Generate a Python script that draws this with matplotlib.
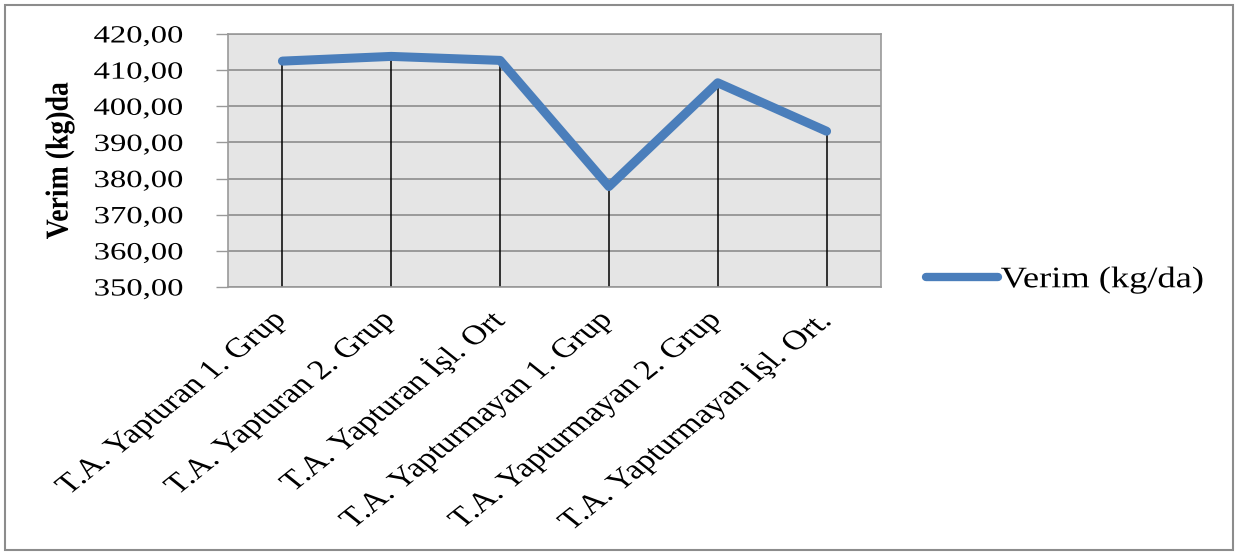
import matplotlib.pyplot as plt
from matplotlib.patches import Rectangle
from matplotlib.patheffects import AbstractPathEffect
from matplotlib.transforms import Affine2D

plt.rcParams['font.family'] = ['Liberation Serif', 'DejaVu Serif']

categories = ['T.A. Yapturan 1. Grup', 'T.A. Yapturan 2. Grup', 'T.A. Yapturan İşl. Ort',
              'T.A. Yapturmayan 1. Grup', 'T.A. Yapturmayan 2. Grup', 'T.A. Yapturmayan İşl. Ort.']
verim = [412.5, 413.8, 412.7, 377.8, 406.5, 393.1]
yticks = [350, 360, 370, 380, 390, 400, 410, 420]


class HStretch(AbstractPathEffect):
    """Widen text horizontally on screen, keeping one edge in place."""

    def __init__(self, sx, anchor='right'):
        super().__init__()
        self.sx = sx
        self.anchor = anchor

    def draw_path(self, renderer, gc, tpath, affine, rgbFace=None):
        pts = affine.transform(tpath.vertices)
        if self.anchor == 'right':
            x0 = pts[:, 0].max()
        elif self.anchor == 'left':
            x0 = pts[:, 0].min()
        else:
            x0 = (pts[:, 0].min() + pts[:, 0].max()) / 2
        stretch = Affine2D().translate(-x0, 0).scale(self.sx, 1).translate(x0, 0)
        renderer.draw_path(gc, tpath, affine + stretch, rgbFace)


fig = plt.figure(figsize=(12.36, 5.52), dpi=100)
ax = fig.add_axes([228 / 1236, 1 - 287 / 552, 653 / 1236, 253 / 552])

x = list(range(len(categories)))
ax.set_facecolor('#e5e5e5')
ax.set_xlim(-0.5, len(categories) - 0.5)
ax.set_ylim(350, 420)

# drop lines from each point down to the axis
ax.vlines(x, 350, verim, colors='black', linewidth=1.1, zorder=2)
line, = ax.plot(x, verim, color='#4a7ebb', linewidth=6.5, solid_capstyle='round',
                solid_joinstyle='round', zorder=3, label='Verim (kg/da)')

ax.set_yticks(yticks)
ax.set_yticklabels([f'{v:.2f}'.replace('.', ',') for v in yticks])
ax.grid(axis='y', color='#999999', linewidth=1.4, zorder=1)
ax.set_axisbelow(True)

ax.tick_params(axis='y', direction='out', length=9, width=1, color='#999999',
               labelsize=17.8, pad=23)
ax.tick_params(axis='x', length=0, pad=21, labelsize=20)
ax.set_xticks(x)
ax.set_xticklabels(categories, rotation=45, ha='right', va='center', rotation_mode='anchor')

for lbl in ax.get_yticklabels():
    lbl.set_path_effects([HStretch(1.32, 'right')])
for lbl in ax.get_xticklabels():
    lbl.set_path_effects([HStretch(1.25, 'right')])

for s in ax.spines.values():
    s.set_color('#999999')
    s.set_linewidth(1.2)

ax.set_ylabel('Verim (kg)da', fontsize=20, fontweight='bold',
              va='center', ha='center')
ax.yaxis.set_label_coords((60 - 228) / 653, 0.5)
ax.yaxis.label.set_path_effects([HStretch(1.15, 'center')])

leg = fig.legend(handles=[line], loc='center left', bbox_to_anchor=(926 / 1236, 1 - 280 / 552),
                 frameon=False, fontsize=21.5, handlelength=2.4, handletextpad=0.1,
                 borderpad=0, borderaxespad=0)
for t in leg.get_texts():
    t.set_path_effects([HStretch(1.22, 'left')])
leg.get_lines()[0].set_linewidth(6)

fig.patches.append(Rectangle((5 / 1236, 2 / 552), 1228 / 1236, 545 / 552,
                             transform=fig.transFigure, fill=False,
                             edgecolor='#8c8c8c', linewidth=1.5))

fig.savefig('out.png', dpi=100)
